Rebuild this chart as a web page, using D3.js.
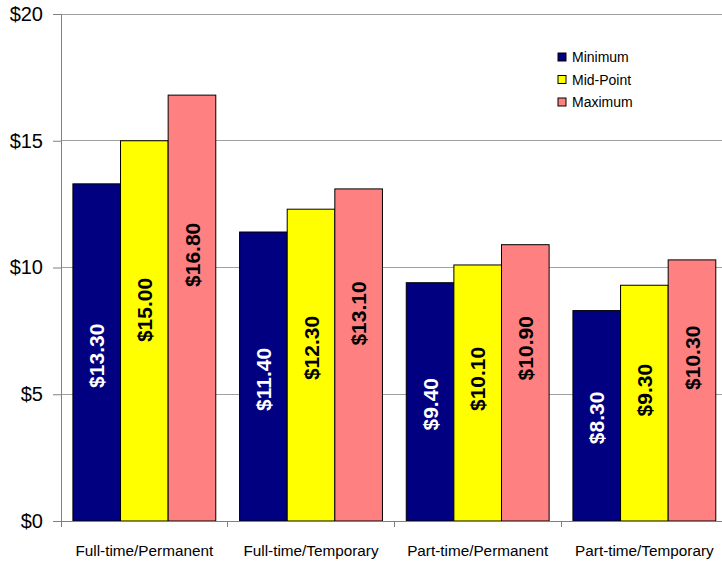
<!DOCTYPE html>
<html>
<head>
<meta charset="utf-8">
<script src="https://cdn.jsdelivr.net/npm/d3@7"></script>
<style>
  html, body { margin: 0; padding: 0; background: #fff; }
  svg { display: block; font-family: "Liberation Sans", Arial, sans-serif; }
</style>
</head>
<body>
<svg id="chart" width="722" height="562"></svg>
<script>
// Hourly pay ranges by employment type
const categories = ["Full-time/Permanent", "Full-time/Temporary", "Part-time/Permanent", "Part-time/Temporary"];
const seriesNames = ["Minimum", "Mid-Point", "Maximum"];
const minimum = [13.30, 11.40, 9.40, 8.30];
const midPoint = [15.00, 12.30, 10.10, 9.30];
const maximum = [16.80, 13.10, 10.90, 10.30];
const yTicks = [0, 5, 10, 15, 20];

const seriesValues = [minimum, midPoint, maximum];
const colors = ["#000080", "#FFFF00", "#FF8080"];
const labelColors = ["#ffffff", "#000000", "#000000"];
// where along each bar its value label sits (fraction of bar height)
const labelAnchor = [0.49, 0.555, 0.625];

const svg = d3.select("#chart");
const plotLeft = 61, plotRight = 727.7, plotTop = 14, plotBottom = 521;

const x = d3.scaleBand().domain(categories).range([plotLeft, plotRight]).padding(0);
const xInner = d3.scaleBand().domain(seriesNames).range([0, x.bandwidth()])
  .paddingInner(0).paddingOuter(0.25);
const y = d3.scaleLinear().domain([0, 20]).range([plotBottom, plotTop]);

const fmt = v => "$" + v.toFixed(2);

// horizontal gridlines
svg.append("g").selectAll("line").data(yTicks.filter(t => t > 0)).join("line")
  .attr("x1", plotLeft).attr("x2", plotRight)
  .attr("y1", d => y(d)).attr("y2", d => y(d))
  .attr("stroke", "#a0a0a0").attr("stroke-width", 1).attr("shape-rendering", "crispEdges");

// y axis
const yAxis = svg.append("g").attr("transform", `translate(${plotLeft},0)`)
  .call(d3.axisLeft(y).tickValues(yTicks).tickFormat(d => "$" + d).tickSizeOuter(0).tickSizeInner(8).tickPadding(10));
yAxis.select(".domain").attr("stroke", "#808080");
yAxis.selectAll(".tick line").attr("stroke", "#808080");
yAxis.selectAll(".tick text").attr("font-size", "20px").attr("fill", "#000")
  .attr("font-family", "'Liberation Sans', Arial, sans-serif");

// bars
const groups = svg.append("g").selectAll("g").data(categories).join("g")
  .attr("transform", d => `translate(${x(d)},0)`);

groups.selectAll("rect").data((c, i) => seriesNames.map((s, j) => ({ s, j, v: seriesValues[j][i] })))
  .join("rect")
  .attr("x", d => xInner(d.s))
  .attr("width", xInner.bandwidth())
  .attr("y", d => y(d.v))
  .attr("height", d => y(0) - y(d.v))
  .attr("fill", d => colors[d.j])
  .attr("stroke", "#000").attr("stroke-width", 1);

// value labels, rotated
groups.selectAll("text.val").data((c, i) => seriesNames.map((s, j) => ({ s, j, v: seriesValues[j][i] })))
  .join("text").attr("class", "val")
  .attr("transform", d => `translate(${xInner(d.s) + xInner.bandwidth() / 2},${y(d.v * labelAnchor[d.j])}) rotate(-90)`)
  .attr("text-anchor", "middle").attr("dy", "0.36em")
  .attr("font-size", "21px").attr("font-weight", "bold")
  .attr("fill", d => labelColors[d.j])
  .text(d => fmt(d.v));

// x axis
svg.append("line").attr("x1", plotLeft).attr("x2", plotRight).attr("y1", plotBottom).attr("y2", plotBottom)
  .attr("stroke", "#808080").attr("shape-rendering", "crispEdges");
svg.append("g").selectAll("line").data(categories.map(c => x(c)).concat([plotRight])).join("line")
  .attr("x1", d => d).attr("x2", d => d).attr("y1", plotBottom).attr("y2", plotBottom + 6)
  .attr("stroke", "#808080").attr("shape-rendering", "crispEdges");
svg.append("g").selectAll("text").data(categories).join("text")
  .attr("x", d => x(d) + x.bandwidth() / 2).attr("y", 556)
  .attr("text-anchor", "middle").attr("font-size", "15.3px").attr("fill", "#000")
  .text(d => d);

// legend
const legend = svg.append("g").attr("transform", "translate(558,57)");
const rows = legend.selectAll("g").data(seriesNames).join("g")
  .attr("transform", (d, i) => `translate(0,${i * 22.5})`);
rows.append("rect").attr("x", 0).attr("y", -4).attr("width", 8).attr("height", 8)
  .attr("fill", (d, i) => colors[i]).attr("stroke", "#000");
rows.append("text").attr("x", 14).attr("dy", "0.36em").attr("font-size", "14px").text(d => d);
</script>
</body>
</html>
